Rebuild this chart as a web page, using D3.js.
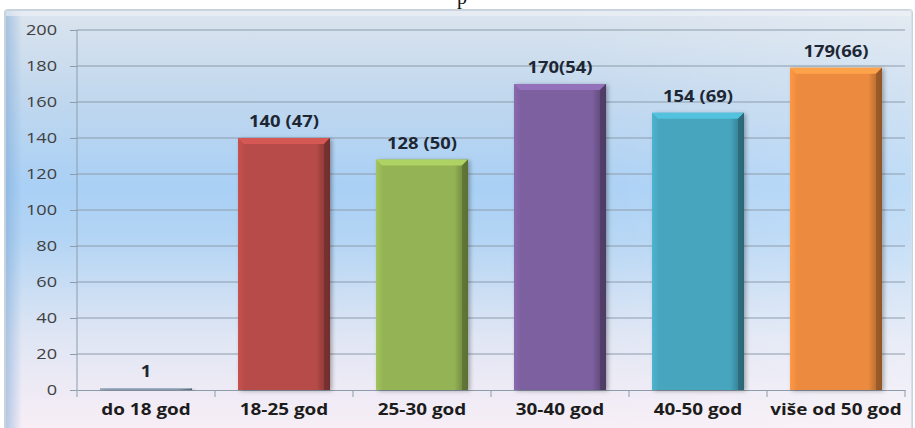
<!DOCTYPE html>
<html><head><meta charset="utf-8">
<script src="https://cdn.jsdelivr.net/npm/d3@7"></script>
<style>html,body{margin:0;padding:0;background:#fff;overflow:hidden}</style>
</head><body>
<svg id="c" width="915" height="428"></svg>
<script>
const categories = ["do 18 god","18-25 god","25-30 god","30-40 god","40-50 god","više od 50 god"];
const values = [1,140,128,170,154,179];
const valueLabels = ["1","140 (47)","128 (50)","170(54)","154 (69)","179(66)"];
const colors = ["#8b9aac","#b64b48","#94b354","#7d609f","#46a5be","#ec8b3f"];
const yTicks = [0,20,40,60,80,100,120,140,160,180,200];

const svg = d3.select("#c");
const defs = svg.append("defs");

const bg = defs.append("linearGradient").attr("id","bg").attr("x1",0).attr("y1",0).attr("x2",0).attr("y2",1);
[["0%","#dbe4ee"],["20%","#c2d8ee"],["42%","#a9d0f5"],["55%","#b4d5f4"],["78%","#e0e6f4"],["100%","#f8eef6"]].forEach(s=>bg.append("stop").attr("offset",s[0]).attr("stop-color",s[1]));
const bgl = defs.append("linearGradient").attr("id","bgl").attr("x1",0).attr("y1",0).attr("x2",1).attr("y2",0);
[["0%","#ffffff",0],["60%","#ffffff",0],["100%","#ffffff",0.25]].forEach(s=>bgl.append("stop").attr("offset",s[0]).attr("stop-color",s[1]).attr("stop-opacity",s[2]));

svg.append("text").attr("x",462).attr("y",4).attr("text-anchor","middle")
  .attr("font-family","Liberation Serif").attr("font-size",20).attr("fill","#111").text("p");

svg.append("rect").attr("x",5).attr("y",10).attr("width",907).attr("height",420)
  .attr("fill","url(#bg)").attr("stroke","#c9d3de").attr("stroke-width",2).attr("rx",3);
svg.append("rect").attr("x",5).attr("y",10).attr("width",907).attr("height",420).attr("fill","url(#bgl)");
const lb = defs.append("linearGradient").attr("id","lb").attr("x1",0).attr("y1",0).attr("x2",1).attr("y2",0);
lb.append("stop").attr("offset","0%").attr("stop-color","#7ea9d6").attr("stop-opacity",0.55);
lb.append("stop").attr("offset","100%").attr("stop-color","#7ea9d6").attr("stop-opacity",0);
svg.append("rect").attr("x",6).attr("y",11).attr("width",16).attr("height",417).attr("fill","url(#lb)");
svg.append("rect").attr("x",6).attr("y",11).attr("width",905).attr("height",5).attr("fill","#eef2f7").attr("opacity",0.6);

const x = d3.scaleBand().domain(categories).range([77,905]).paddingInner(0.333).paddingOuter(0.1665);
const y = d3.scaleLinear().domain([0,200]).range([390,30]);

svg.append("g").selectAll("line").data(yTicks.filter(t=>t>0)).join("line")
  .attr("x1",77).attr("x2",905).attr("y1",d=>y(d)).attr("y2",d=>y(d))
  .attr("stroke","#8d9cab").attr("stroke-width",1);

const ya = svg.append("g").attr("transform","translate(77,0)")
  .call(d3.axisLeft(y).tickValues(yTicks).tickSize(7).tickPadding(0));
ya.select(".domain").attr("stroke","#8d9cab").attr("d","M0,390V30");
ya.selectAll(".tick line").attr("stroke","#8d9cab");
ya.selectAll(".tick text").attr("x",0).attr("transform","translate(-20,0) scale(1.25,1)")
  .attr("font-family","Open Sans, sans-serif").attr("font-size",14.5).attr("fill","#404040");

const xa = svg.append("g").attr("transform","translate(0,390)")
  .call(d3.axisBottom(x).tickSize(0).tickPadding(14));
xa.select(".domain").attr("stroke","#8d9cab");
xa.selectAll(".tick text").attr("transform","scale(1.22,1)")
  .attr("font-family","Open Sans, sans-serif").attr("font-weight","bold").attr("font-size",15.5).attr("fill","#1c1c1c");
const step = x.step();
svg.append("g").selectAll("line").data(d3.range(categories.length+1)).join("line")
  .attr("x1",i=>77+i*step).attr("x2",i=>77+i*step).attr("y1",390).attr("y2",397)
  .attr("stroke","#8d9cab");

colors.forEach((c,i)=>{
  const g = defs.append("linearGradient").attr("id","bar"+i).attr("x1",0).attr("y1",0).attr("x2",1).attr("y2",0);
  const cc = d3.color(c);
  g.append("stop").attr("offset","0%").attr("stop-color",cc.brighter(0.25));
  g.append("stop").attr("offset","8%").attr("stop-color",c);
  g.append("stop").attr("offset","85%").attr("stop-color",c);
  g.append("stop").attr("offset","100%").attr("stop-color",cc.darker(1.2));
});
const sh = defs.append("filter").attr("id","sh").attr("x","-10%").attr("y","-10%").attr("width","130%").attr("height","130%");
sh.append("feDropShadow").attr("dx",2).attr("dy",1).attr("stdDeviation",2).attr("flood-color","#000").attr("flood-opacity",0.3);

const bars = svg.append("g").selectAll("g").data(values).join("g");
bars.each(function(v,i){
  const g = d3.select(this);
  const x0 = x(categories[i]), w = x.bandwidth(), y0 = y(v), h = y(0)-y(v);
  const b = Math.min(6, h/2);
  g.append("rect").attr("x",x0).attr("y",y0).attr("width",w).attr("height",h)
    .attr("fill","url(#bar"+i+")").attr("filter","url(#sh)");
  const cc = d3.color(colors[i]);
  g.append("path").attr("d",`M${x0},${y0}H${x0+w}L${x0+w-b},${y0+b}H${x0+b}Z`).attr("fill",cc.brighter(0.45));
  g.append("path").attr("d",`M${x0+w},${y0}V${y0+h}H${x0+w-b}V${y0+b}Z`).attr("fill",cc.darker(1.4)).attr("opacity",0.7);
});

svg.append("g").selectAll("text").data(values).join("text")
  .attr("transform",(d,i)=>`translate(${x(categories[i])+x.bandwidth()/2},${y(d)-11}) scale(1.15,1)`)
  .attr("text-anchor","middle")
  .attr("font-family","Open Sans, sans-serif").attr("font-weight","bold").attr("font-size",16).attr("fill","#1d2733")
  .text((d,i)=>valueLabels[i]);
</script>
</body></html>
